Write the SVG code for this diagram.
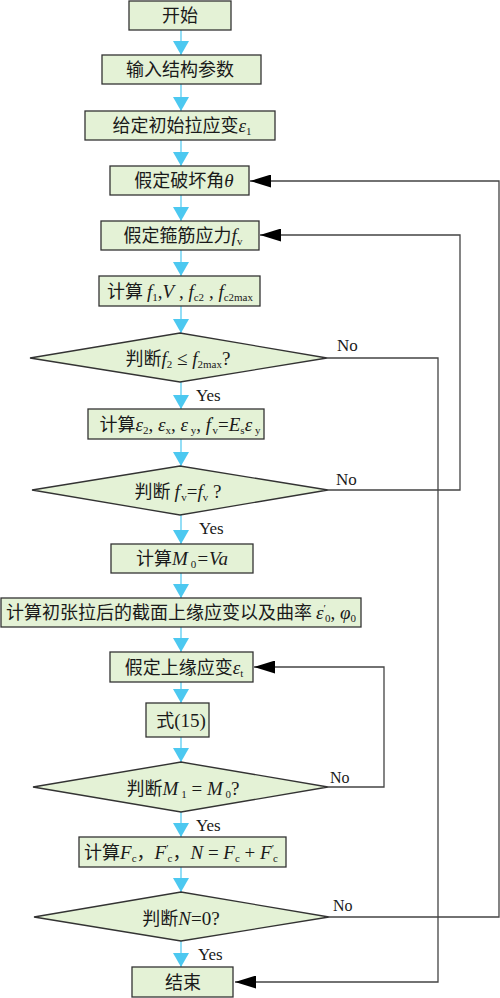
<svg xmlns="http://www.w3.org/2000/svg" width="500" height="998" viewBox="0 0 500 998">
<style>
.box{fill:#e4f2d6;stroke:#333;stroke-width:1.3}
.t{font-family:"Noto Sans CJK SC","Liberation Sans",sans-serif;font-size:18px;fill:#1a1a1a;text-anchor:middle}
.m{font-family:"Liberation Serif",serif;font-style:italic;font-size:19px}
.r{font-family:"Liberation Serif",serif;font-size:19px}
.s{font-family:"Liberation Serif",serif;font-style:normal;font-size:11px}
.lbl{font-family:"Liberation Serif",serif;font-size:17px;fill:#1a1a1a}
.flow{stroke:#4cc8f0;stroke-width:1.2;fill:none}
.back{stroke:#444;stroke-width:1.3;fill:none}
</style>
<defs>
<marker id="ca" viewBox="0 0 14 16" refX="14" refY="8" markerWidth="14" markerHeight="16" markerUnits="userSpaceOnUse" orient="auto"><path d="M0,0 L14,8 L0,16 z" fill="#4cc8f0"/></marker>
<marker id="ba" viewBox="0 0 21 13" refX="21" refY="6.5" markerWidth="21" markerHeight="13" markerUnits="userSpaceOnUse" orient="auto"><path d="M0,0 L21,6.5 L0,13 z" fill="#000"/></marker>
</defs>
<rect width="500" height="998" fill="#fff"/>
<g id="connectors">
<line class="flow" x1="181" y1="30" x2="181" y2="55" marker-end="url(#ca)"/>
<line class="flow" x1="181" y1="84" x2="181" y2="111" marker-end="url(#ca)"/>
<line class="flow" x1="181" y1="140" x2="181" y2="166" marker-end="url(#ca)"/>
<line class="flow" x1="181" y1="195" x2="181" y2="221" marker-end="url(#ca)"/>
<line class="flow" x1="181" y1="250" x2="181" y2="276" marker-end="url(#ca)"/>
<line class="flow" x1="181" y1="306" x2="181" y2="333" marker-end="url(#ca)"/>
<line class="flow" x1="181" y1="382" x2="181" y2="409" marker-end="url(#ca)"/>
<line class="flow" x1="181" y1="439" x2="181" y2="466" marker-end="url(#ca)"/>
<line class="flow" x1="181" y1="515" x2="181" y2="544" marker-end="url(#ca)"/>
<line class="flow" x1="181" y1="573" x2="181" y2="598" marker-end="url(#ca)"/>
<line class="flow" x1="181" y1="627" x2="181" y2="652" marker-end="url(#ca)"/>
<line class="flow" x1="181" y1="682" x2="181" y2="703" marker-end="url(#ca)"/>
<line class="flow" x1="181" y1="737" x2="181" y2="762" marker-end="url(#ca)"/>
<line class="flow" x1="181" y1="812" x2="181" y2="837" marker-end="url(#ca)"/>
<line class="flow" x1="181" y1="867" x2="181" y2="892" marker-end="url(#ca)"/>
<line class="flow" x1="181" y1="941" x2="181" y2="967" marker-end="url(#ca)"/>
<polyline class="back" points="327,358 438,358 438,982 235,982" marker-end="url(#ba)"/>
<polyline class="back" points="328,490 460,490 460,235 260,235" marker-end="url(#ba)"/>
<polyline class="back" points="328,787 384,787 384,667 254,667" marker-end="url(#ba)"/>
<polyline class="back" points="329,917 499,917 499,181 250,181" marker-end="url(#ba)"/>
<text class="lbl" x="337" y="351">No</text>
<text class="lbl" x="336" y="485">No</text>
<text class="lbl" x="330" y="783" style="font-size:16px">No</text>
<text class="lbl" x="333" y="911" style="font-size:16px">No</text>
<text class="lbl" x="196" y="401">Yes</text>
<text class="lbl" x="199" y="534">Yes</text>
<text class="lbl" x="196" y="831">Yes</text>
<text class="lbl" x="198" y="960">Yes</text>
</g>
<g id="n1"><rect class="box" x="129" y="1" width="102" height="29"/><text class="t" x="180" y="22">开始</text></g>
<g id="n2"><rect class="box" x="102" y="55" width="159" height="29"/><text class="t" x="180" y="76">输入结构参数</text></g>
<g id="n3"><rect class="box" x="85" y="111" width="190" height="29"/><text class="t" x="182" y="132">给定初始拉应变<tspan class="m">ε</tspan><tspan class="s" dy="3">1</tspan></text></g>
<g id="n4"><rect class="box" x="110" y="166" width="139" height="29"/><text class="t" x="184" y="187">假定破坏角<tspan class="m">θ</tspan></text></g>
<g id="n5"><rect class="box" x="101" y="221" width="158" height="29"/><text class="t" x="183" y="242">假定箍筋应力<tspan class="m">f</tspan><tspan class="s" dy="3">v</tspan></text></g>
<g id="n6"><rect class="box" x="99" y="276" width="161" height="30"/><text class="t" x="180" y="298">计算 <tspan class="m">f</tspan><tspan class="s" dy="3">1</tspan><tspan class="r" dy="-3">,</tspan><tspan class="m">V</tspan><tspan class="r"> , </tspan><tspan class="m">f</tspan><tspan class="s" dy="3">c2</tspan><tspan class="r" dy="-3"> , </tspan><tspan class="m">f</tspan><tspan class="s" dy="3">c2max</tspan></text></g>
<g id="d1"><polygon class="box" points="30,358 180,333 327,358 180,382"/><text class="t" x="178" y="365">判断<tspan class="m">f</tspan><tspan class="s" dy="3">2</tspan><tspan class="r" dy="-3"> ≤ </tspan><tspan class="m">f</tspan><tspan class="s" dy="3">2max</tspan><tspan class="r" dy="-3">?</tspan></text></g>
<g id="n7"><rect class="box" x="88" y="409" width="176" height="30"/><text class="t" x="180" y="431">计算<tspan class="m">ε</tspan><tspan class="s" dy="3">2</tspan><tspan class="r" dy="-3">, </tspan><tspan class="m">ε</tspan><tspan class="s" dy="3">x</tspan><tspan class="r" dy="-3">, </tspan><tspan class="m">ε</tspan><tspan class="s" dy="3"> y</tspan><tspan class="r" dy="-3">, </tspan><tspan class="m">f</tspan><tspan class="s" dy="-7">′</tspan><tspan class="s" dx="-1" dy="10">v</tspan><tspan class="r" dy="-3">=</tspan><tspan class="m">E</tspan><tspan class="s" dy="3">s</tspan><tspan class="m" dy="-3">ε</tspan><tspan class="s" dy="3"> y</tspan></text></g>
<g id="d2"><polygon class="box" points="32,490 180,466 328,490 180,515"/><text class="t" x="178" y="498">判断 <tspan class="m">f</tspan><tspan class="s" dy="-7">′</tspan><tspan class="s" dx="-1" dy="10">v</tspan><tspan class="r" dy="-3">=</tspan><tspan class="m">f</tspan><tspan class="s" dy="3">v</tspan><tspan class="r" dy="-3"> ?</tspan></text></g>
<g id="n8"><rect class="box" x="111" y="544" width="142" height="29"/><text class="t" x="182" y="565">计算<tspan class="m">M</tspan><tspan class="s" dy="3"> 0</tspan><tspan class="m" dy="-3">=Va</tspan></text></g>
<g id="n9"><rect class="box" x="1" y="598" width="360" height="29"/><text class="t" x="181" y="619">计算初张拉后的截面上缘应变以及曲率 <tspan class="m">ε</tspan><tspan class="s" dy="-7">′</tspan><tspan class="s" dx="-1" dy="10">0</tspan><tspan class="r" dy="-3">, </tspan><tspan class="m">φ</tspan><tspan class="s" dy="3">0</tspan></text></g>
<g id="n10"><rect class="box" x="110" y="652" width="143" height="30"/><text class="t" x="184" y="674">假定上缘应变<tspan class="m">ε</tspan><tspan class="s" dy="3">t</tspan></text></g>
<g id="n11"><rect class="box" x="146" y="703" width="63" height="34"/><text class="t" x="181" y="727">式<tspan class="r">(15)</tspan></text></g>
<g id="d3"><polygon class="box" points="33,787 181,762 328,787 181,812"/><text class="t" x="183" y="795">判断<tspan class="m">M</tspan><tspan class="s" dy="3"> 1</tspan><tspan class="r" dy="-3"> = </tspan><tspan class="m">M</tspan><tspan class="s" dy="3"> 0</tspan><tspan class="r" dy="-3">?</tspan></text></g>
<g id="n12"><rect class="box" x="79" y="837" width="207" height="30"/><text class="t" x="181" y="859">计算<tspan class="m">F</tspan><tspan class="s" dy="3">c</tspan><tspan dy="-3">，</tspan><tspan class="m">F</tspan><tspan class="s" dy="-7">′</tspan><tspan class="s" dx="-1" dy="10">c</tspan><tspan dy="-3">，</tspan><tspan class="m">N</tspan><tspan class="r"> = </tspan><tspan class="m">F</tspan><tspan class="s" dy="3">c</tspan><tspan class="r" dy="-3"> + </tspan><tspan class="m">F</tspan><tspan class="s" dy="-7">′</tspan><tspan class="s" dx="-1" dy="10">c</tspan></text></g>
<g id="d4"><polygon class="box" points="34,917 181,892 329,917 181,941"/><text class="t" x="181" y="925">判断<tspan class="m">N</tspan><tspan class="r">=0?</tspan></text></g>
<g id="n13"><rect class="box" x="132" y="967" width="101" height="30"/><text class="t" x="183" y="989">结束</text></g>
</svg>
